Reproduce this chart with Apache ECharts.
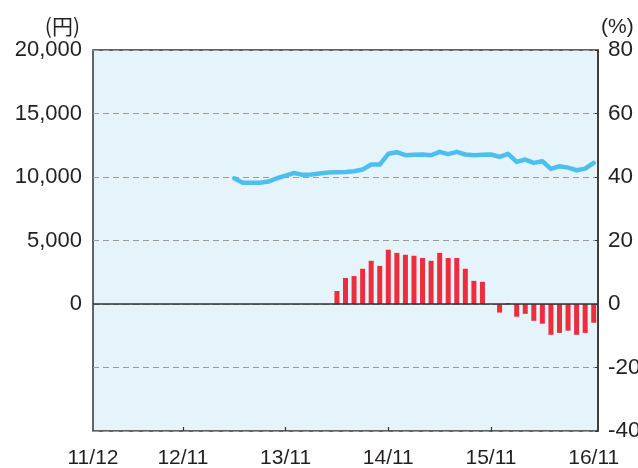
<!DOCTYPE html>
<html>
<head>
<meta charset="utf-8">
<script src="https://cdn.jsdelivr.net/npm/echarts@6/dist/echarts.min.js"></script>
<style>
html,body{margin:0;padding:0;background:#fff;}
#chart{width:638px;height:468px;}
</style>
</head>
<body>
<div id="chart"></div>
<script>
// Month labels: index 0 = 2011/12 ... index 59 = 2016/11
const months = [
  '11/12',
  '12/01','12/02','12/03','12/04','12/05','12/06','12/07','12/08','12/09','12/10','12/11','12/12',
  '13/01','13/02','13/03','13/04','13/05','13/06','13/07','13/08','13/09','13/10','13/11','13/12',
  '14/01','14/02','14/03','14/04','14/05','14/06','14/07','14/08','14/09','14/10','14/11','14/12',
  '15/01','15/02','15/03','15/04','15/05','15/06','15/07','15/08','15/09','15/10','15/11','15/12',
  '16/01','16/02','16/03','16/04','16/05','16/06','16/07','16/08','16/09','16/10','16/11'
];
// x-axis tick labels (month indexes that get a label)
const labelMonths = ['11/12','12/11','13/11','14/11','15/11','16/11'];
const tickMonths = ['12/11','13/11','14/11','15/11'];

// Price (yen), 13/05 .. 16/11
const priceMonths = [
  '13/05','13/06','13/07','13/08','13/09','13/10','13/11','13/12',
  '14/01','14/02','14/03','14/04','14/05','14/06','14/07','14/08','14/09','14/10','14/11','14/12',
  '15/01','15/02','15/03','15/04','15/05','15/06','15/07','15/08','15/09','15/10','15/11','15/12',
  '16/01','16/02','16/03','16/04','16/05','16/06','16/07','16/08','16/09','16/10','16/11'
];
const priceYen = [
  9900, 9550, 9550, 9540, 9640, 9900, 10110, 10320,
  10170, 10190, 10270, 10350, 10370, 10400, 10450, 10585, 10980, 10980, 11825, 11950,
  11715, 11745, 11770, 11715, 11980, 11795, 11980, 11770, 11715, 11745, 11770, 11590,
  11825, 11190, 11375, 11110, 11240, 10640, 10845, 10740, 10530, 10660, 11110
];

// Year-on-year change (%), 14/05 .. 16/11 (null = no bar)
const yoyMonths = [
  '14/05','14/06','14/07','14/08','14/09','14/10','14/11','14/12',
  '15/01','15/02','15/03','15/04','15/05','15/06','15/07','15/08','15/09','15/10','15/11','15/12',
  '16/01','16/02','16/03','16/04','16/05','16/06','16/07','16/08','16/09','16/10','16/11'
];
const yoyPct = [
  4.1, 8.2, 8.8, 11.1, 13.6, 12.0, 17.1, 16.1,
  15.5, 15.2, 14.5, 13.6, 16.1, 14.5, 14.5, 11.1, 7.3, 7.0, null, -2.7,
  0.3, -4.0, -3.1, -5.3, -6.2, -9.7, -9.1, -8.4, -9.7, -9.1, -5.9
];

const idx = m => months.indexOf(m);
const lineData = priceMonths.map((m, i) => [idx(m), priceYen[i]]);
const barData = yoyMonths.map((m, i) => [idx(m), yoyPct[i]]);
const labelPos = labelMonths.map(m => m === months[0] ? 0.5 : idx(m));
const tickPos = tickMonths.map(idx);

const FONT = '"Liberation Sans", Arial, "Noto Sans CJK JP", sans-serif';
const TXT = '#231f20';

const chart = echarts.init(document.getElementById('chart'), null, {renderer: 'canvas'});
chart.setOption({
  animation: false,
  textStyle: {fontFamily: FONT},
  grid: {
    left: 93, right: 40, top: 50, bottom: 37,
    show: true, backgroundColor: '#e5f4fb', borderColor: '#333', borderWidth: 1.5,
    containLabel: false, outerBoundsMode: 'none'
  },
  xAxis: {
    type: 'value', min: 0.5, max: 59.5,
    splitLine: {show: false},
    axisLine: {show: false, onZero: false},
    axisTick: {show: true, inside: true, length: 4, customValues: tickPos,
      lineStyle: {color: '#333', width: 1.2}},
    axisLabel: {
      customValues: labelPos, margin: 17, fontSize: 21, color: TXT, fontFamily: FONT,
      formatter: v => months[Math.floor(v)]
    }
  },
  yAxis: [
    {
      type: 'value', position: 'left', min: -10000, max: 20000, interval: 5000,
      name: '(円)', nameLocation: 'end', nameGap: 13,
      nameTextStyle: {fontSize: 21, color: TXT, fontFamily: '"Noto Sans CJK JP", sans-serif',
        align: 'right', verticalAlign: 'bottom', padding: [0, 13, 0, 0]},
      axisLine: {show: false}, axisTick: {show: false},
      axisLabel: {fontSize: 22, color: TXT, margin: 11, fontFamily: FONT,
        formatter: v => v < 0 ? '' : v.toLocaleString('en-US')},
      splitLine: {show: true, lineStyle: {color: '#9a9a9a', type: [6, 4], width: 1}}
    },
    {
      type: 'value', position: 'right', min: -40, max: 80, interval: 20,
      name: '(%)', nameLocation: 'end', nameGap: 12,
      nameTextStyle: {fontSize: 21, color: TXT, fontFamily: FONT,
        align: 'left', verticalAlign: 'bottom', padding: [0, 0, 0, 3]},
      axisLine: {show: true, lineStyle: {color: '#333', width: 1.5}},
      axisTick: {show: true, inside: true, length: 3, lineStyle: {color: '#333'}},
      axisLabel: {fontSize: 22.5, color: TXT, margin: 10, fontFamily: FONT},
      splitLine: {show: false}
    }
  ],
  series: [
    {
      type: 'bar', yAxisIndex: 1, data: barData, barWidth: 5,
      itemStyle: {color: '#ee2d3c'},
      markLine: {
        silent: true, symbol: ['none', 'none'], label: {show: false},
        lineStyle: {color: '#333', type: 'solid', width: 1.5},
        data: [{yAxis: 0}]
      }
    },
    {
      type: 'line', yAxisIndex: 0, data: lineData, showSymbol: false, symbol: 'none',
      lineStyle: {color: '#4cbfee', width: 4.5, cap: 'round', join: 'round'},
      z: 3
    }
  ]
});
</script>
</body>
</html>
